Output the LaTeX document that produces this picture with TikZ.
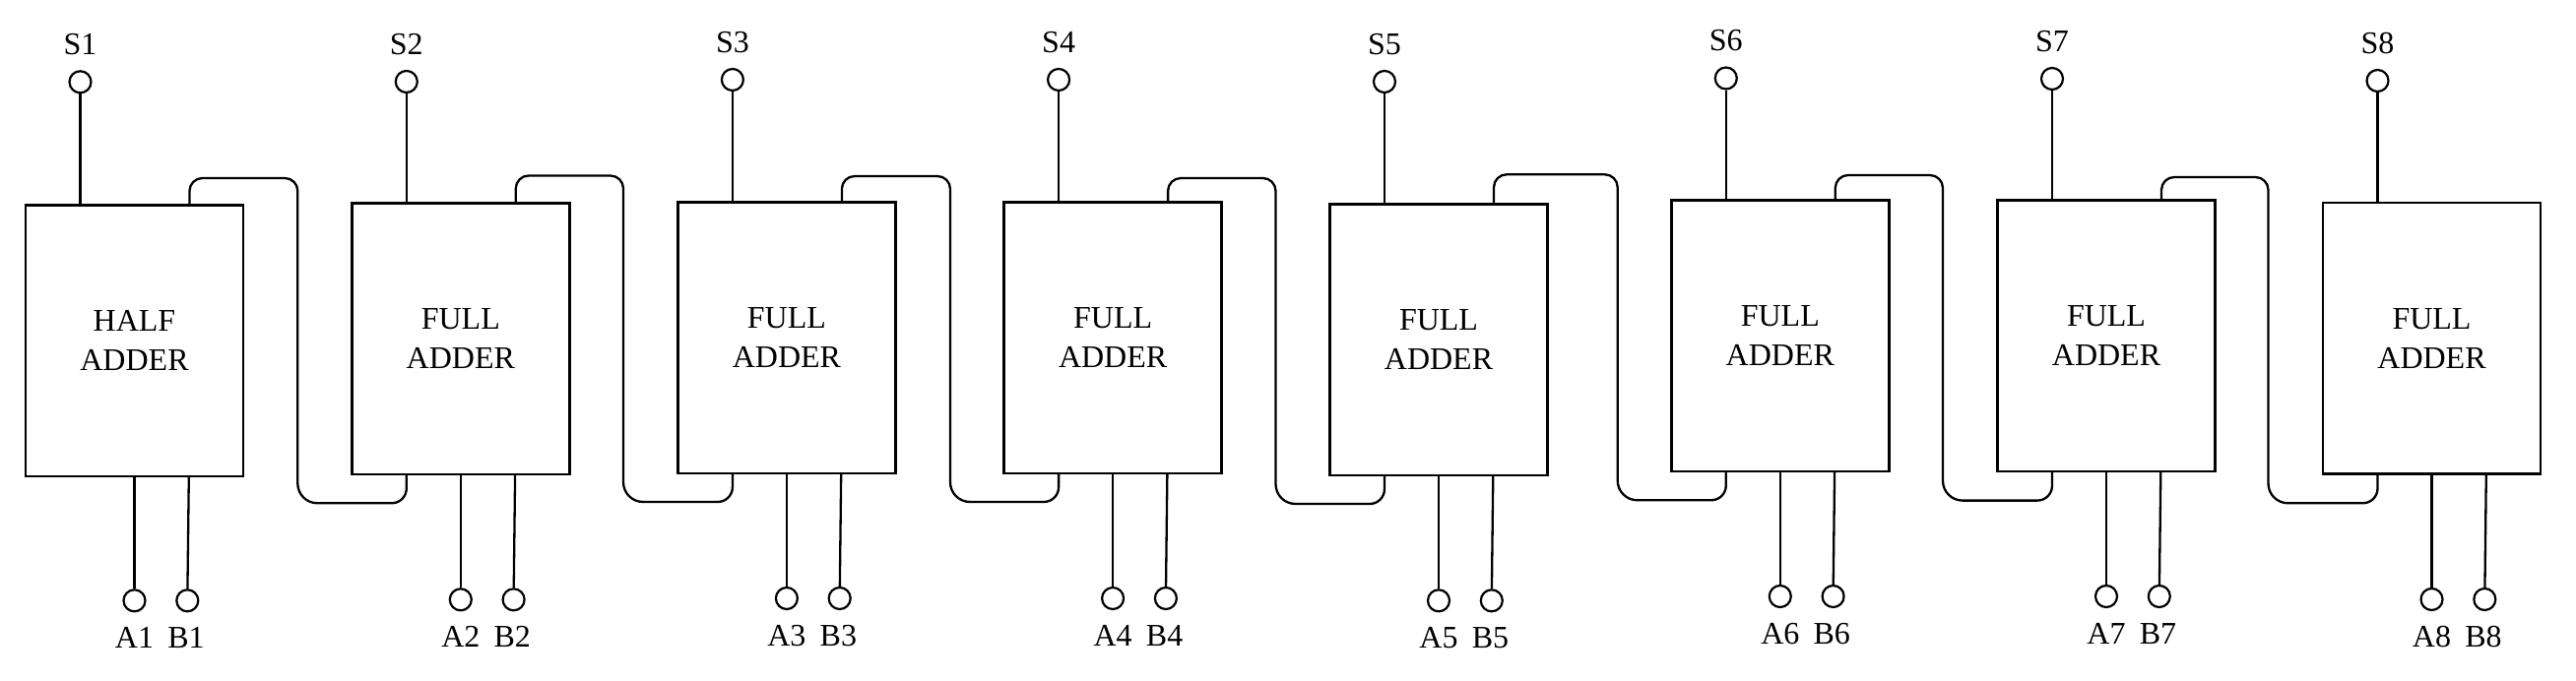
\documentclass[tikz,border=0pt]{standalone}
\usepackage{fontspec}
\setmainfont{Liberation Serif}
\usetikzlibrary{calc}
\begin{document}
\begin{tikzpicture}[x=1pt,y=-1pt,
  adder/.style={draw, line width=2.6pt, minimum width=221pt, minimum height=275.5pt,
    inner sep=0pt, outer sep=0pt, align=center, font=\fontsize{32}{40}\selectfont},
  term/.style={draw, circle, line width=2.2pt, minimum size=22pt, inner sep=0pt},
  lbl/.style={font=\fontsize{32}{40}\selectfont, inner sep=0pt},
  wire/.style={line width=2.3pt}]
\useasboundingbox (0,0) rectangle (2616,692);
\foreach \i/\l/\t/\sy/\ay/\w in {
  1/26/208.3/83.3/610.3/HALF,
  2/357.3/206.5/83/609.3/FULL,
  3/688.4/205.5/81/608/FULL,
  4/1019.6/205.5/81/608/FULL,
  5/1350.5/207.5/83/610.3/FULL,
  6/1697.3/203.5/79.5/606/FULL,
  7/2028.5/203.5/80/606/FULL,
  8/2359/206/82/609/FULL}{
  \node[adder] (fa\i) at (\l+110.5, \t+137.75) {\w\\ADDER};
  \node[term] (s\i) at (\l+55.5, \sy) {};
  \node[lbl] (sl\i) at (\l+55.5, \sy-38) {S\i};
  \node[term] (a\i) at (\l+110.5, \ay) {};
  \node[term] (b\i) at (\l+164.3, \ay) {};
  \node[lbl] (al\i) at (\l+110.5, \ay+38) {A\i};
  \node[lbl] (bl\i) at (\l+163, \ay+38) {B\i};
  \draw[wire] (s\i) -- (s\i |- fa\i.north);
  \draw[wire] (a\i) -- (a\i |- fa\i.south);
  \draw[wire] (b\i) -- ($(b\i |- fa\i.south)+(1.5,0)$);
}
\foreach \i/\j/\dx/\ct/\cb in {
  1/2/302.3/181/511.3,
  2/3/633/178.5/510,
  3/4/965/179/510,
  4/5/1295.5/181/512,
  5/6/1642.7/177.3/508.3,
  6/7/1973/178/508.6,
  7/8/2303.5/180/511.3}{
  \coordinate (co\i) at ($(fa\i.north west)+(166.5,0)$);
  \coordinate (ci\j) at ($(fa\j.south west)+(55.5,0)$);
  \coordinate (ct\i) at (\dx,\ct);
  \coordinate (cb\i) at (\dx,\cb);
  \draw[wire] (co\i) [rounded corners=13pt] |- (ct\i) [rounded corners=20pt] -- (cb\i) [rounded corners=15pt] -| (ci\j);
}
\end{tikzpicture}
\end{document}
